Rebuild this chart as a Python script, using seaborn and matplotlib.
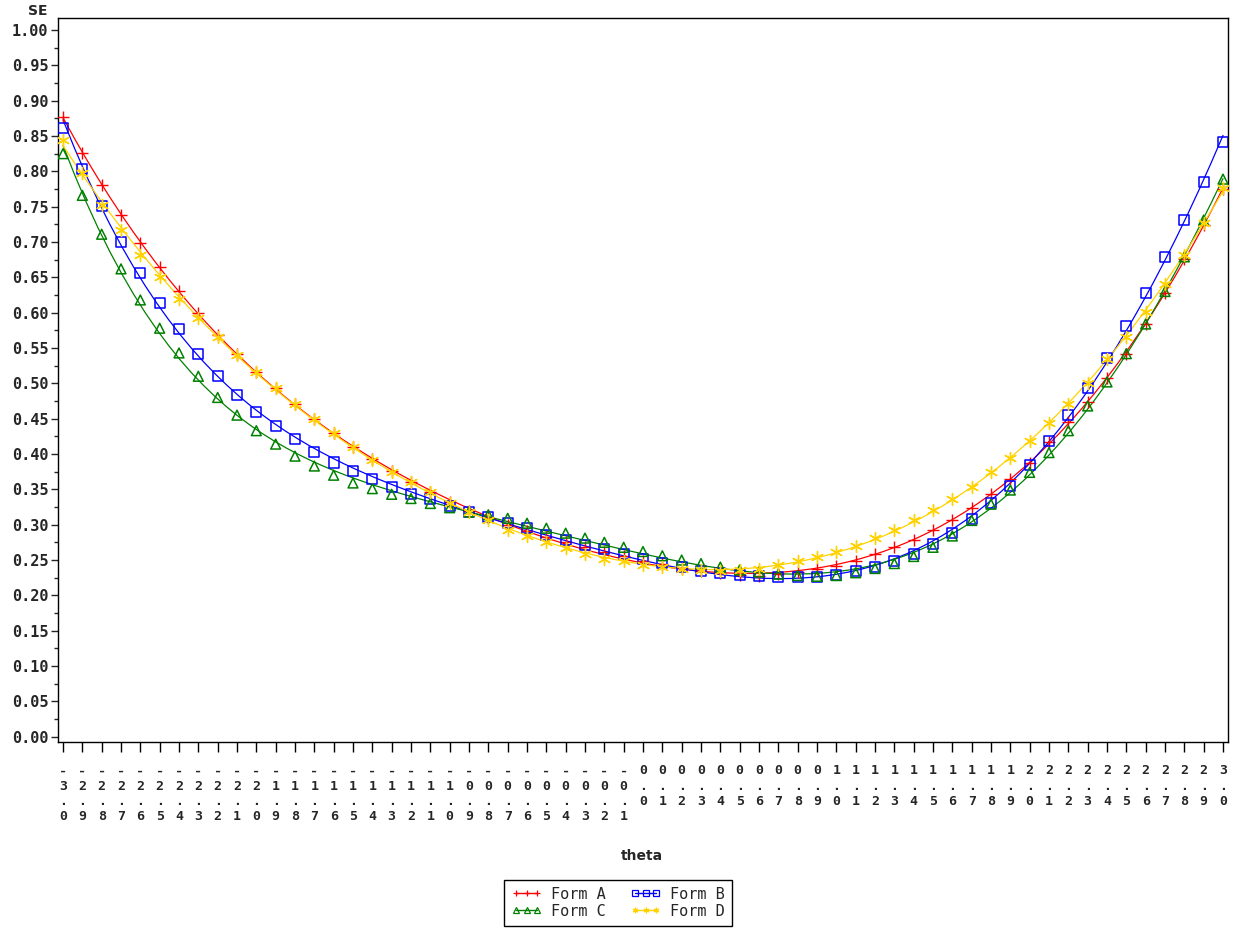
import numpy as np
import pandas as pd
import matplotlib
matplotlib.use('Agg')
import matplotlib.pyplot as plt
from matplotlib.lines import Line2D
from matplotlib.ticker import MultipleLocator
import seaborn as sns

# theta grid (x categories)
theta = [-3.0, -2.9, -2.8, -2.7, -2.6, -2.5, -2.4, -2.3, -2.2, -2.1,
         -2.0, -1.9, -1.8, -1.7, -1.6, -1.5, -1.4, -1.3, -1.2, -1.1,
         -1.0, -0.9, -0.8, -0.7, -0.6, -0.5, -0.4, -0.3, -0.2, -0.1,
         0.0, 0.1, 0.2, 0.3, 0.4, 0.5, 0.6, 0.7, 0.8, 0.9,
         1.0, 1.1, 1.2, 1.3, 1.4, 1.5, 1.6, 1.7, 1.8, 1.9,
         2.0, 2.1, 2.2, 2.3, 2.4, 2.5, 2.6, 2.7, 2.8, 2.9, 3.0]

# standard error per form
se_form_a = [0.877, 0.826, 0.781, 0.738, 0.699, 0.664, 0.631, 0.600, 0.569, 0.542,
             0.516, 0.494, 0.471, 0.450, 0.430, 0.410, 0.393, 0.376, 0.360, 0.346,
             0.332, 0.319, 0.309, 0.300, 0.291, 0.283, 0.275, 0.268, 0.261, 0.255,
             0.249, 0.244, 0.239, 0.235, 0.231, 0.229, 0.228, 0.230, 0.233, 0.237,
             0.242, 0.249, 0.259, 0.268, 0.279, 0.292, 0.307, 0.324, 0.344, 0.365,
             0.388, 0.417, 0.446, 0.474, 0.507, 0.542, 0.584, 0.628, 0.676, 0.724, 0.775]
se_form_b = [0.862, 0.804, 0.751, 0.700, 0.656, 0.614, 0.577, 0.542, 0.511, 0.484,
             0.460, 0.439, 0.421, 0.403, 0.388, 0.376, 0.365, 0.354, 0.344, 0.336,
             0.327, 0.318, 0.311, 0.303, 0.295, 0.286, 0.278, 0.271, 0.265, 0.259,
             0.252, 0.246, 0.240, 0.235, 0.231, 0.229, 0.227, 0.226, 0.226, 0.226,
             0.229, 0.234, 0.240, 0.248, 0.259, 0.272, 0.288, 0.308, 0.330, 0.355,
             0.385, 0.419, 0.455, 0.494, 0.536, 0.581, 0.628, 0.679, 0.731, 0.785, 0.841]
se_form_c = [0.825, 0.766, 0.711, 0.662, 0.618, 0.578, 0.543, 0.510, 0.480, 0.455,
             0.433, 0.414, 0.397, 0.383, 0.370, 0.359, 0.351, 0.343, 0.337, 0.330,
             0.324, 0.318, 0.314, 0.309, 0.302, 0.295, 0.288, 0.281, 0.275, 0.268,
             0.262, 0.256, 0.250, 0.245, 0.240, 0.236, 0.233, 0.230, 0.228, 0.227,
             0.228, 0.232, 0.238, 0.245, 0.255, 0.268, 0.284, 0.306, 0.329, 0.349,
             0.374, 0.402, 0.433, 0.468, 0.502, 0.542, 0.584, 0.630, 0.679, 0.731, 0.789]
se_form_d = [0.844, 0.797, 0.752, 0.717, 0.682, 0.650, 0.620, 0.592, 0.566, 0.540,
             0.516, 0.494, 0.471, 0.449, 0.430, 0.410, 0.392, 0.375, 0.360, 0.346,
             0.331, 0.318, 0.306, 0.293, 0.284, 0.275, 0.267, 0.259, 0.252, 0.248,
             0.243, 0.240, 0.237, 0.236, 0.235, 0.236, 0.238, 0.243, 0.248, 0.254,
             0.261, 0.270, 0.281, 0.293, 0.306, 0.321, 0.336, 0.354, 0.374, 0.395,
             0.418, 0.444, 0.471, 0.501, 0.534, 0.565, 0.601, 0.640, 0.682, 0.727, 0.777]

form_names = ['Form A', 'Form B', 'Form C', 'Form D']
form_colors = ['#FF0000', '#0000FF', '#008000', '#FFD200']
form_markers = ['+', 's', '^', (6, 2, 0)]
form_sizes = [75, 52, 50, 75]
y_ticks = [0.00, 0.05, 0.10, 0.15, 0.20, 0.25, 0.30, 0.35, 0.40, 0.45, 0.50,
           0.55, 0.60, 0.65, 0.70, 0.75, 0.80, 0.85, 0.90, 0.95, 1.00]

sns.set_style('ticks')
plt.rcParams['font.family'] = ['DejaVu Sans']

W, H = 1237, 930
fig = plt.figure(figsize=(W / 100, H / 100), dpi=100)
ax = fig.add_axes([58 / W, 1 - 741.7 / H, (1228 - 58) / W, (741.7 - 18.3) / H])

all_se = [se_form_a, se_form_b, se_form_c, se_form_d]
for name, vals, color, marker, size in zip(form_names, all_se, form_colors, form_markers, form_sizes):
    df = pd.DataFrame({'theta': theta, 'SE': vals})
    # smooth polynomial regression curve through the points
    sns.regplot(data=df, x='theta', y='SE', order=5, ci=None, scatter=False, ax=ax,
                line_kws=dict(color=color, lw=0.9))
    if marker in ('s', '^'):
        sns.scatterplot(data=df, x='theta', y='SE', marker=marker, s=size, color=color,
                        facecolor='none', edgecolor=color, linewidth=1.1, ax=ax, zorder=3)
    else:
        sns.scatterplot(data=df, x='theta', y='SE', marker=marker, s=size, color=color,
                        edgecolor=color, linewidth=1.0, ax=ax, zorder=3)

x0 = -3.0 - 5 / 19.33 * 0.1
x1 = 3.0 + 5 / 19.33 * 0.1
ax.set_xlim(x0, x1)
ax.set_ylim(-(741.7 - 736.7) / 706.7, 1.0 + (30 - 18.3) / 706.7)

for sp in ax.spines.values():
    sp.set_visible(True)
    sp.set_color('black')
    sp.set_linewidth(1.0)

# x tick labels written vertically, one character per line
ax.set_xticks(theta)
ax.set_xticklabels(['\n'.join(f'{t:.1f}') for t in theta],
                   fontfamily='DejaVu Sans Mono', fontweight='bold', fontsize=9.5,
                   linespacing=1.24, va='top')
ax.tick_params(axis='x', direction='out', length=7.2, width=1.0, pad=9, color='black')

ax.set_yticks(y_ticks)
ax.set_yticklabels([f'{v:.2f}' for v in y_ticks],
                   fontfamily='DejaVu Sans Mono', fontweight='bold', fontsize=11)
ax.yaxis.set_minor_locator(MultipleLocator(0.025))
ax.tick_params(axis='y', which='major', direction='out', length=5, width=1.0, pad=2)
ax.tick_params(axis='y', which='minor', direction='out', length=3, width=1.0)

ax.set_xlabel('')
ax.set_ylabel('')
fig.text(38 / W, 1 - 11 / H, 'SE', ha='center', va='center', fontsize=10, fontweight='bold')
fig.text(642 / W, 1 - 856 / H, 'theta', ha='center', va='center', fontsize=10, fontweight='bold')

# legend fills column-wise, so order entries to get A B / C D rows
order = [0, 2, 1, 3]
handles = [Line2D([], [], color=form_colors[i], lw=1.0, marker=form_markers[i], markersize=4,
                  markerfacecolor='none', markeredgecolor=form_colors[i], markeredgewidth=0.9)
           for i in order]
labels = [form_names[i] for i in order]
leg = fig.legend(handles, labels, ncol=2, loc='upper center',
                 bbox_to_anchor=(618 / W, 1 - 872 / H), numpoints=3, handlelength=2.0,
                 handletextpad=0.6, columnspacing=1.6, labelspacing=0.15, borderpad=0.45,
                 fancybox=False, edgecolor='black', framealpha=1,
                 prop=dict(family='DejaVu Sans Mono', size=11))
leg.get_frame().set_linewidth(1.0)

fig.savefig('out.png', dpi=100)
